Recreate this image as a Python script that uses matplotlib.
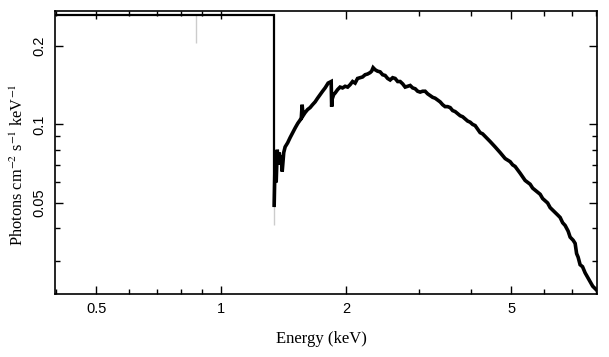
import numpy as np
import matplotlib
matplotlib.use("Agg")
import matplotlib.pyplot as plt
from matplotlib.ticker import FixedLocator, NullFormatter, FixedFormatter

plt.rcParams['mathtext.fontset'] = 'stix'

# Unfolded spectrum (energy in keV, flux in photons cm^-2 s^-1 keV^-1)
energy = [0.40, 1.342, 1.342, 1.350, 1.357, 1.365, 1.372, 1.380, 1.387, 1.395, 1.403,
          1.415, 1.426, 1.446, 1.466, 1.487, 1.508, 1.530, 1.550, 1.560, 1.567, 1.575,
          1.593, 1.615, 1.638, 1.660, 1.684, 1.707, 1.731, 1.755, 1.780, 1.795, 1.810,
          1.825, 1.841, 1.846, 1.851, 1.866, 1.882, 1.908, 1.934, 1.961, 1.989, 2.017,
          2.045, 2.073, 2.102, 2.131, 2.161, 2.191, 2.222, 2.253, 2.285, 2.304, 2.323,
          2.349, 2.380, 2.415, 2.449, 2.483, 2.518, 2.553, 2.589, 2.625, 2.662, 2.699,
          2.737, 2.775, 2.814, 2.853, 2.893, 2.933, 2.974, 3.015, 3.057, 3.100, 3.143,
          3.187, 3.232, 3.277, 3.323, 3.369, 3.416, 3.463, 3.512, 3.561, 3.611, 3.661,
          3.712, 3.764, 3.817, 3.870, 3.924, 3.979, 4.034, 4.090, 4.147, 4.205, 4.264,
          4.323, 4.384, 4.445, 4.507, 4.570, 4.634, 4.699, 4.765, 4.831, 4.898, 4.966,
          5.036, 5.106, 5.178, 5.250, 5.323, 5.397, 5.473, 5.549, 5.627, 5.705, 5.785,
          5.866, 5.948, 6.030, 6.114, 6.200, 6.286, 6.374, 6.463, 6.554, 6.646, 6.738,
          6.851, 6.927, 7.043, 7.122, 7.180, 7.241, 7.321, 7.420, 7.527, 7.630, 7.739,
          7.850, 7.957, 8.02]
flux = [0.262, 0.262, 0.049, 0.078, 0.060, 0.080, 0.070, 0.078, 0.073, 0.076, 0.066,
        0.078, 0.082, 0.085, 0.089, 0.093, 0.097, 0.101, 0.104, 0.106, 0.119, 0.108,
        0.111, 0.114, 0.116, 0.119, 0.122, 0.126, 0.130, 0.134, 0.138, 0.141, 0.144,
        0.145, 0.146, 0.117, 0.125, 0.130, 0.132, 0.136, 0.139, 0.138, 0.140, 0.139,
        0.142, 0.146, 0.144, 0.150, 0.151, 0.152, 0.155, 0.156, 0.158, 0.160, 0.165,
        0.162, 0.160, 0.159, 0.155, 0.154, 0.150, 0.148, 0.151, 0.150, 0.146, 0.146,
        0.143, 0.139, 0.140, 0.141, 0.138, 0.137, 0.134, 0.133, 0.134, 0.134, 0.131,
        0.129, 0.127, 0.126, 0.124, 0.122, 0.119, 0.117, 0.117, 0.116, 0.113, 0.112,
        0.110, 0.108, 0.107, 0.105, 0.103, 0.102, 0.100, 0.099, 0.096, 0.093, 0.092,
        0.090, 0.088, 0.086, 0.084, 0.082, 0.080, 0.078, 0.076, 0.074, 0.073, 0.072,
        0.070, 0.069, 0.067, 0.065, 0.063, 0.061, 0.060, 0.059, 0.057, 0.056, 0.055,
        0.054, 0.052, 0.051, 0.050, 0.048, 0.047, 0.046, 0.045, 0.044, 0.042, 0.041,
        0.039, 0.037, 0.036, 0.035, 0.032, 0.031, 0.029, 0.0285, 0.0270, 0.026, 0.025,
        0.024, 0.0235, 0.0232]

# faint error bars
err_e = [0.870, 1.342]
err_lo = [0.205, 0.041]
err_hi = [0.262, 0.049]

xticks_major = [0.5, 1, 2, 5]
xtick_labels = ['0.5', '1', '2', '5']
yticks_major = [0.05, 0.1, 0.2]
ytick_labels = ['0.05', '0.1', '0.2']

fig = plt.figure(figsize=(6.09, 3.57), dpi=100)
ax = fig.add_axes([55/609, 1 - 294/357, (597-55)/609, (294-11)/357])

ax.vlines(err_e, err_lo, err_hi, colors='#cccccc', linewidth=1.0, zorder=1)
# flat low-energy part and edge drawn thinner, the noisy spectrum thicker
ax.plot(energy[:3], flux[:3], color='black', linewidth=1.6, solid_joinstyle='miter', zorder=2)
ax.plot(energy[2:], flux[2:], color='black', linewidth=2.6, solid_joinstyle='miter', zorder=2)

ax.set_xscale('log')
ax.set_yscale('log')
ax.set_xlim(0.398, 8.04)
ax.set_ylim(0.0224, 0.272)

ax.xaxis.set_major_locator(FixedLocator(xticks_major))
ax.xaxis.set_major_formatter(FixedFormatter(xtick_labels))
ax.xaxis.set_minor_locator(FixedLocator([0.4, 0.6, 0.7, 0.8, 0.9, 3, 4, 6, 7, 8]))
ax.xaxis.set_minor_formatter(NullFormatter())
ax.yaxis.set_major_locator(FixedLocator(yticks_major))
ax.yaxis.set_major_formatter(FixedFormatter(ytick_labels))
ax.yaxis.set_minor_locator(FixedLocator([0.03, 0.04, 0.06, 0.07, 0.08, 0.09]))
ax.yaxis.set_minor_formatter(NullFormatter())

for s in ax.spines.values():
    s.set_linewidth(1.2)
ax.tick_params(which='both', direction='in', top=True, right=True, width=1.0,
               labelsize=10.5, labelfontfamily='Liberation Sans')
ax.tick_params(which='major', length=5.5, pad=6)
ax.tick_params(which='minor', length=3.5)
for lbl in ax.get_yticklabels():
    lbl.set_rotation(90)
    lbl.set_va('center')

ax.set_xlabel('Energy (keV)', family='Liberation Serif', fontsize=12)
ax.set_ylabel(r'Photons cm$^{-2}$ s$^{-1}$ keV$^{-1}$', family='Liberation Serif',
              fontsize=11.8)
ax.xaxis.set_label_coords((321 - 55) / (597 - 55), -(339 - 294) / (294 - 11), transform=ax.transAxes)
ax.yaxis.set_label_coords(-(55 - 18) / (597 - 55), (294 - 165) / (294 - 11), transform=ax.transAxes)
ax.xaxis.label.set_va('center')
ax.yaxis.label.set_va('center')

fig.savefig('out.png', dpi=100)
